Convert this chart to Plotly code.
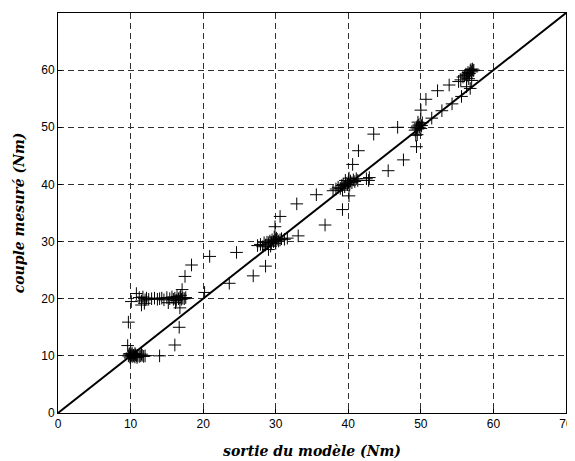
import plotly.graph_objects as go

# Cluster near (10,10)
xa = [9.7, 9.8, 9.9, 10.0, 10.1, 10.2, 10.3, 10.4, 10.5, 10.6, 10.7, 10.8, 11.0, 11.2, 11.4, 11.6, 11.8, 12.0,
      10.0, 10.2, 9.9, 10.6, 10.9, 11.5, 9.6, 9.7, 14.0, 16.1, 16.7, 16.8]
ya = [10.0, 10.3, 9.8, 10.1, 10.0, 10.2, 9.9, 10.1, 10.0, 9.8, 10.2, 10.0, 10.1, 9.9, 10.0, 10.1, 9.9, 10.0,
      9.6, 10.5, 10.4, 10.4, 9.7, 10.3, 11.8, 15.9, 10.0, 11.9, 15.0, 18.4]
# Cluster near y=20
xb = [10.1, 10.8, 11.2, 11.5, 11.7, 11.5, 12.0, 12.2, 12.5, 12.9, 13.3, 13.7, 14.0, 14.3, 14.6, 15.0, 15.2, 15.4,
      15.7, 15.9, 16.1, 16.3, 16.4, 16.6, 16.8, 17.0, 17.2, 17.4, 17.6, 16.2, 16.9, 17.1, 11.9]
yb = [19.5, 20.9, 20.2, 19.6, 20.3, 18.9, 19.8, 20.1, 19.9, 20.0, 20.1, 19.9, 20.0, 20.1, 19.8, 20.2, 19.3, 20.0,
      20.3, 19.9, 20.1, 19.7, 20.4, 20.0, 20.2, 19.9, 20.1, 20.0, 20.2, 19.3, 20.6, 21.6, 19.2]
# Transition 17-29
xc = [17.5, 18.4, 20.9, 20.2, 23.6, 24.6, 26.9, 28.6]
yc = [23.9, 25.9, 27.4, 21.1, 22.7, 28.1, 24.0, 25.7]
# Cluster near (30,30)
xd = [27.5, 27.9, 28.2, 28.4, 28.6, 28.8, 29.0, 29.2, 29.4, 29.5, 29.7, 29.9, 30.0, 30.2, 30.4, 30.6, 30.8, 31.2,
      31.6, 29.8, 30.1, 29.3, 29.0, 29.9, 30.6, 32.9, 35.6, 36.8, 33.1]
yd = [29.3, 29.5, 29.1, 29.8, 29.4, 29.9, 29.6, 30.1, 29.8, 30.3, 30.0, 30.2, 29.7, 30.4, 30.1, 30.3, 30.5, 30.4,
      30.6, 30.8, 30.6, 29.2, 28.6, 32.6, 34.4, 36.6, 38.2, 32.9, 31.0]
# Cluster near (40,40)
xe = [37.9, 38.3, 38.6, 38.9, 39.1, 39.3, 39.5, 39.7, 39.9, 40.0, 40.2, 40.3, 40.5, 40.7, 40.9, 41.1, 41.3, 39.6,
      40.1, 39.2, 42.8, 42.9, 42.5, 39.2, 40.1, 40.6, 41.4, 43.5, 46.8, 45.5, 47.6, 49.4, 49.5]
ye = [38.9, 39.2, 39.5, 39.3, 39.8, 40.0, 39.6, 40.2, 40.0, 40.4, 39.9, 40.6, 40.3, 40.8, 40.5, 41.0, 40.7, 40.7,
      41.1, 39.0, 40.7, 41.2, 41.0, 35.6, 38.0, 43.5, 45.9, 48.8, 50.0, 42.4, 44.3, 46.6, 48.7]
# Cluster near (50,50) and upward
xf = [49.2, 49.4, 49.5, 49.6, 49.7, 49.8, 49.9, 50.0, 50.1, 50.2, 49.6, 49.3, 50.0, 50.7, 51.5, 52.3, 52.9, 53.9,
      54.3, 55.2, 55.6, 56.3, 56.8, 56.3]
yf = [49.5, 49.9, 50.2, 49.7, 50.4, 50.0, 50.6, 49.8, 50.3, 50.8, 50.9, 48.6, 53.0, 54.9, 51.6, 56.4, 52.9, 57.4,
      54.1, 58.0, 55.4, 58.6, 56.8, 57.1]
# Cluster near (57,60)
xg = [55.5, 55.8, 56.0, 56.2, 56.4, 56.5, 56.7, 56.8, 56.9, 57.0, 57.1, 57.2, 57.3, 56.6, 57.0]
yg = [58.3, 58.8, 59.0, 59.3, 59.1, 59.6, 59.4, 59.9, 60.1, 59.7, 60.2, 59.9, 60.0, 58.5, 58.2]

x_model = xa + xb + xc + xd + xe + xf + xg
y_meas = ya + yb + yc + yd + ye + yf + yg

line_x = [0, 70]
line_y = [0, 70]
ticks = [0, 10, 20, 30, 40, 50, 60, 70]

fig = go.Figure()
fig.add_trace(go.Scatter(x=x_model, y=y_meas, mode="markers",
                         marker=dict(symbol="cross-thin", size=9, line=dict(color="black", width=1)),
                         showlegend=False, cliponaxis=False))
fig.add_trace(go.Scatter(x=line_x, y=line_y, mode="lines",
                         line=dict(color="black", width=2), showlegend=False))

title_font = dict(family="DejaVu Serif", size=14, color="black", style="italic", weight="bold")
axis_common = dict(range=[0, 70], tickvals=ticks, showgrid=True, gridcolor="#303030", gridwidth=1,
                   griddash="6px,4px", showline=True, linecolor="black", linewidth=1, mirror=True,
                   ticks="inside", ticklen=4, tickcolor="black", zeroline=False, automargin=False,
                   tickfont=dict(family="Liberation Sans, Arial", size=12, color="black"))
fig.update_xaxes(**axis_common,
                 title=dict(text="sortie du modèle (Nm)", standoff=15, font=title_font))
fig.update_yaxes(**axis_common,
                 title=dict(text="couple mesuré (Nm)", standoff=13, font=title_font))
# the page body adds an 8px offset, so the figure is sized to keep the axes where the reference has them
fig.update_layout(width=566, height=452, margin=dict(l=50, r=8, t=5, b=47),
                  plot_bgcolor="white", paper_bgcolor="white")
fig.write_html("out.html")
